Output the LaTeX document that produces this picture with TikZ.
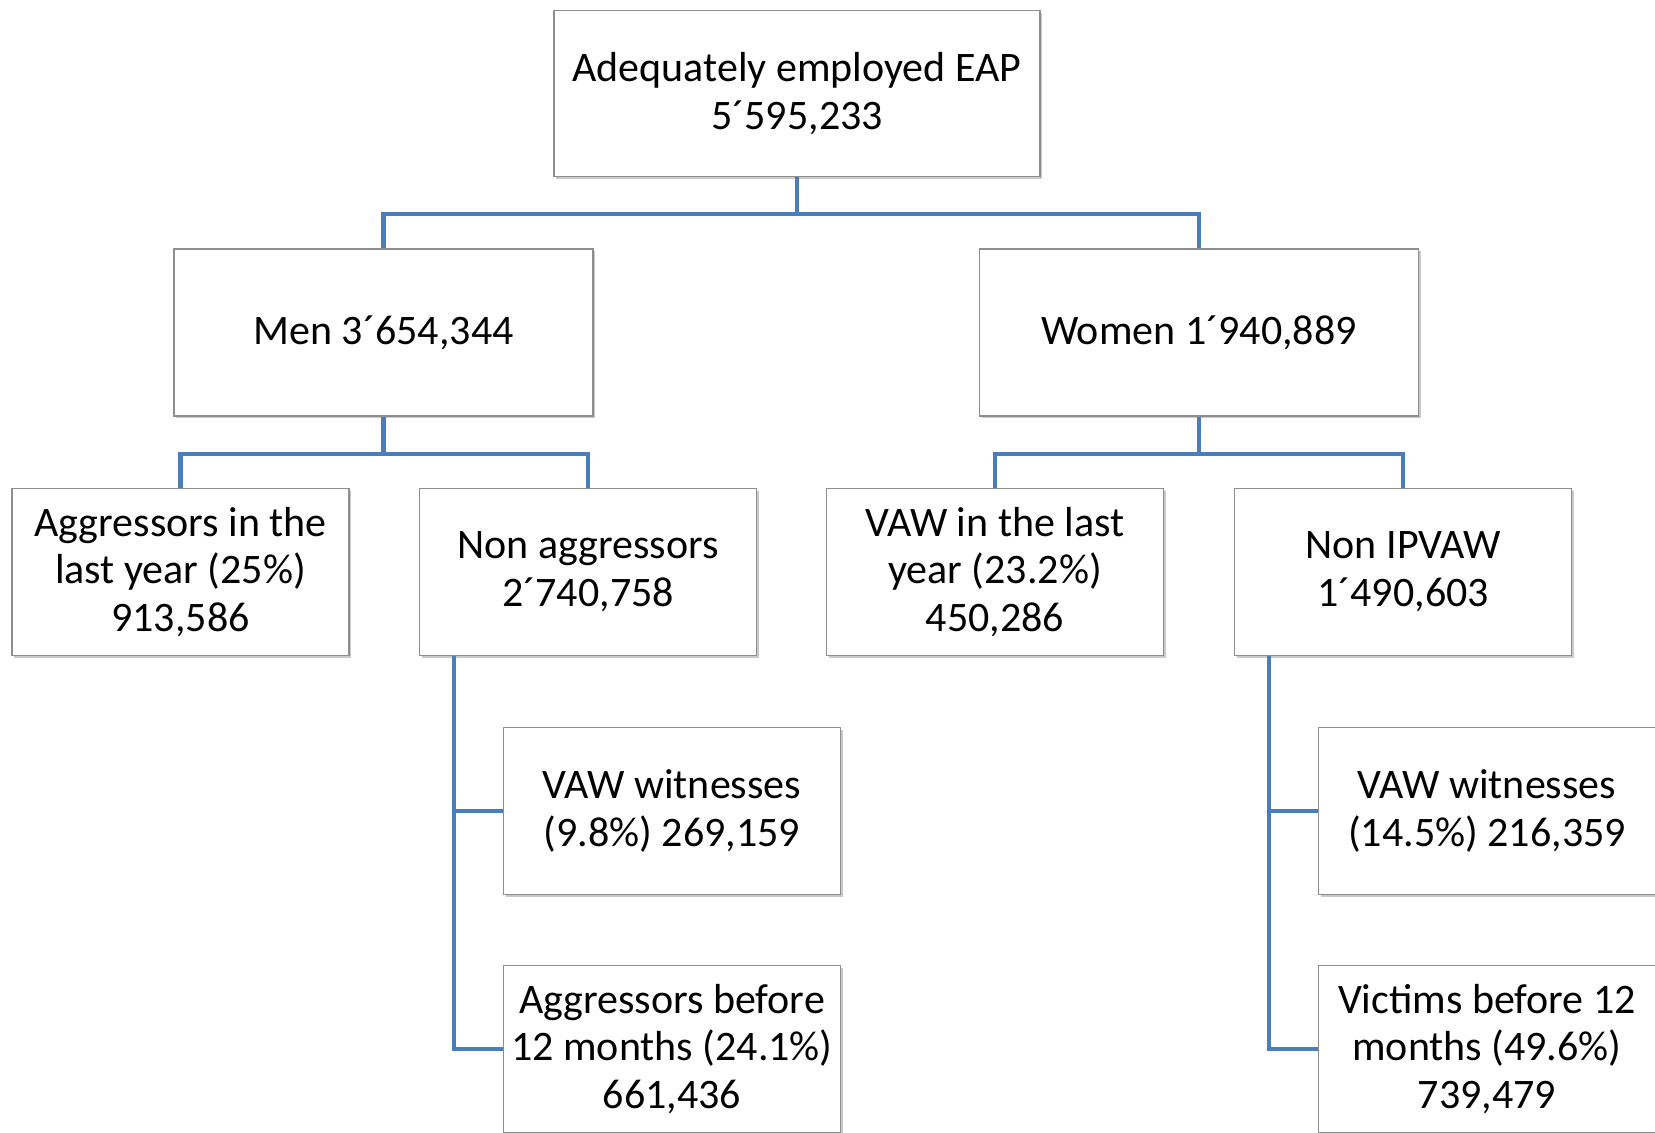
\documentclass[tikz,border=0pt]{standalone}
\usepackage{fontspec}
\setmainfont{Carlito}
\usetikzlibrary{calc,shadows}
\definecolor{connblue}{HTML}{4A7EBB}
\definecolor{boxgray}{HTML}{8E8E8E}
\begin{document}
\begin{tikzpicture}[x=0.5pt,y=-0.5pt,
  box/.style={draw=boxgray,line width=0.7pt,fill=white,align=center,
    inner sep=0pt,font=\fontsize{21pt}{23.8pt}\selectfont,
    drop shadow={shadow xshift=1.2pt,shadow yshift=-1.2pt,opacity=0.35,fill=black!60}},
  lvl/.style={box,minimum width=168.5pt,minimum height=83.5pt},
  conn/.style={draw=connblue,line width=2.3pt}]
\clip (0,0) rectangle (1655,1133);
\fill[white] (0,0) rectangle (1655,1133);
\node[box,minimum width=243pt,minimum height=83pt] (top) at (797,93.75) {Adequately employed EAP\\5´595,233};
\node[box,minimum width=209.5pt,minimum height=83.5pt] (men) at (383.5,332.5) {Men 3´654,344};
\node[box,minimum width=219.5pt,minimum height=83.5pt] (women) at (1199,332.5) {Women 1´940,889};
\node[lvl] (agg) at (180.5,572) {Aggressors in the\\last year (25\%)\\913,586};
\node[lvl] (nonagg) at (588,572) {Non aggressors\\2´740,758};
\node[lvl] (vawly) at (995,572) {VAW in the last\\year (23.2\%)\\450,286};
\node[lvl] (nonip) at (1403,572) {Non IPVAW\\1´490,603};
\node[lvl] (wit1) at (672,811) {VAW witnesses\\(9.8\%) 269,159};
\node[lvl] (agb) at (672,1049) {Aggressors before\\12 months (24.1\%)\\661,436};
\node[lvl] (wit2) at (1487,811) {VAW witnesses\\(14.5\%) 216,359};
\node[lvl] (vic) at (1487,1049) {Victims before 12\\months (49.6\%)\\739,479};
\coordinate (j1) at (797,214);
\coordinate (j2) at (383.5,454);
\coordinate (j3) at (1199,454);
\coordinate (s1) at ($(nonagg.south west)+(35,0)$);
\coordinate (s2) at ($(nonip.south west)+(35,0)$);
\draw[conn] (top.south) -- (j1) -| (men.north);
\draw[conn] (j1) -| (women.north);
\draw[conn] (men.south) -- (j2) -| (agg.north);
\draw[conn] (j2) -| (nonagg.north);
\draw[conn] (women.south) -- (j3) -| (vawly.north);
\draw[conn] (j3) -| (nonip.north);
\draw[conn] (s1) |- (wit1.west);
\draw[conn] (s1) |- (agb.west);
\draw[conn] (s2) |- (wit2.west);
\draw[conn] (s2) |- (vic.west);
\end{tikzpicture}
\end{document}
